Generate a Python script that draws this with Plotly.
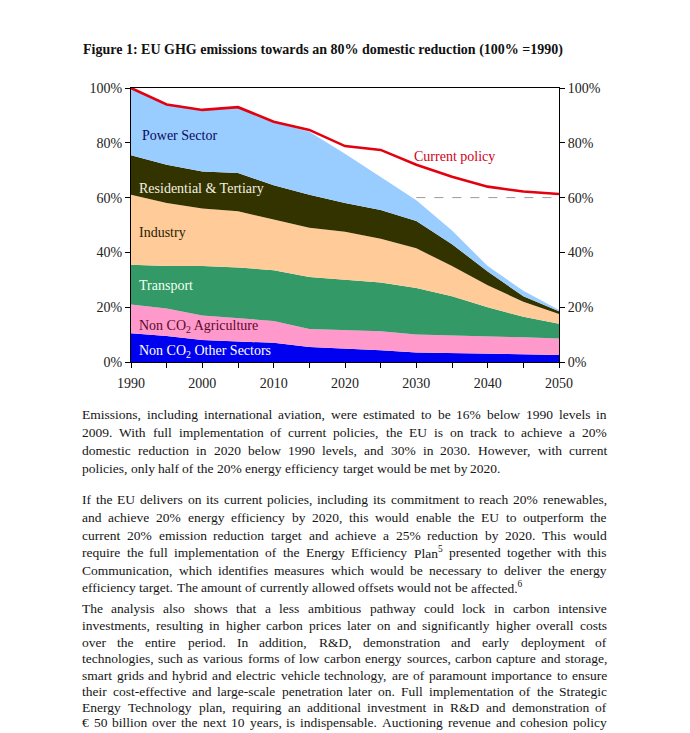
import re
import plotly.graph_objects as go

# ---------------- data (percent of 1990 emissions) ----------------
years = [1990, 1995, 2000, 2005, 2010, 2015, 2020, 2025, 2030, 2035, 2040, 2045, 2050]
other_sectors = [10.5, 9.5, 8.0, 7.5, 7.0, 5.5, 5.0, 4.3, 3.5, 3.3, 3.2, 3.0, 2.6]
agriculture = [10.5, 10.0, 9.0, 8.5, 8.0, 6.5, 6.7, 6.9, 6.5, 6.4, 6.3, 6.0, 6.0]
transport = [14.5, 15.5, 18.0, 18.5, 18.5, 19.0, 18.3, 17.8, 17.0, 14.3, 10.5, 7.5, 5.4]
industry = [25.5, 23.0, 21.0, 20.5, 18.5, 18.0, 17.5, 16.0, 14.5, 11.0, 8.0, 5.5, 3.5]
residential = [14.5, 14.0, 13.5, 14.0, 12.5, 12.0, 10.5, 10.5, 10.0, 8.0, 5.0, 2.0, 1.0]
power = [24.5, 22.0, 22.5, 24.0, 23.0, 23.0, 18.0, 12.0, 7.5, 5.0, 2.0, 2.0, 0.5]
current_policy = [100, 94, 92, 93, 87.7, 84.7, 78.8, 77.4, 72, 67.6, 64, 62.2, 61.3]
target_years = [2030, 2050]
target_level = [60, 60]

x_tickvals = [1990, 1995, 2000, 2005, 2010, 2015, 2020, 2025, 2030, 2035, 2040, 2045, 2050]
x_ticktext = ["1990", "", "2000", "", "2010", "", "2020", "", "2030", "", "2040", "", "2050"]
y_tickvals = [0, 20, 40, 60, 80, 100]
y_ticktext = ["0%", "20%", "40%", "60%", "80%", "100%"]

series = [
    ("Non CO<sub>2</sub> Other Sectors", other_sectors, "#0000F0", "#FFFFFF", 1990.9, 3.8),
    ("Non CO<sub>2</sub> Agriculture", agriculture, "#FF99CC", "#5A0A2A", 1990.9, 12.9),
    ("Transport", transport, "#339966", "#F2FFF2", 1990.8, 28.1),
    ("Industry", industry, "#FFCC99", "#2A2000", 1990.8, 47.2),
    ("Residential & Tertiary", residential, "#333300", "#F4F0E0", 1990.9, 63.4),
    ("Power Sector", power, "#99CCFF", "#0A0A60", 1991.2, 82.8),
]

title_text = "Figure 1: EU GHG emissions towards an 80% domestic reduction (100% =1990)"

paragraphs = [
    ([
        "Emissions, including international aviation, were estimated to be 16% below 1990 levels in",
        "2009. With full implementation of current policies, the EU is on track to achieve a 20%",
        "domestic reduction in 2020 below 1990 levels, and 30% in 2030. However, with current",
        "policies, only half of the 20% energy efficiency target would be met by 2020.",
    ], [414, 432, 450, 468]),
    ([
        "If the EU delivers on its current policies, including its commitment to reach 20% renewables,",
        "and achieve 20% energy efficiency by 2020, this would enable the EU to outperform the",
        "current 20% emission reduction target and achieve a 25% reduction by 2020. This would",
        "require the full implementation of the Energy Efficiency Plan<sup>5</sup> presented together with this",
        "Communication, which identifies measures which would be necessary to deliver the energy",
        "efficiency target. The amount of currently allowed offsets would not be affected.<sup>6</sup>",
    ], [499, 517, 535, 552, 570, 587]),
    ([
        "The analysis also shows that a less ambitious pathway could lock in carbon intensive",
        "investments, resulting in higher carbon prices later on and significantly higher overall costs",
        "over the entire period. In addition, R&D, demonstration and early deployment of",
        "technologies, such as various forms of low carbon energy sources, carbon capture and storage,",
        "smart grids and hybrid and electric vehicle technology, are of paramount importance to ensure",
        "their cost-effective and large-scale penetration later on. Full implementation of the Strategic",
        "Energy Technology plan, requiring an additional investment in R&D and demonstration of",
        "€ 50 billion over the next 10 years, is indispensable. Auctioning revenue and cohesion policy",
        "co-financing options exist. Member States should exploit these. In addition, innovative",
    ], [608, 625, 642, 658, 675, 691, 707, 722, 738]),
]

# ---------------- page geometry (page pixels; page body has an 8px margin) ----------------
W, H = 690, 733
OFF = 8
PX_L, PX_R, PY_T, PY_B = 131, 559, 88, 362
TEXT_L, TEXT_R = 82, 607
SERIF = "Liberation Serif, Times New Roman, serif"
BODY_SIZE = 13.5


def fx(px):
    return (px - OFF) / W


def fy(py):
    return 1 - (py - OFF) / H


# Times / Liberation Serif advance widths (per 1000 em)
_w = {' ': 250, ',': 250, '.': 250, ':': 278, ';': 278, '%': 833, '&': 778, '-': 333,
      '(': 333, ')': 333, '=': 564, '€': 500, "'": 180}
for c, v in zip("abcdefghijklmnopqrstuvwxyz",
                [444, 500, 444, 500, 444, 333, 500, 500, 278, 278, 500, 278, 778, 500, 500,
                 500, 500, 333, 389, 278, 500, 500, 722, 500, 500, 444]):
    _w[c] = v
for c, v in zip("ABCDEFGHIJKLMNOPQRSTUVWXYZ",
                [722, 667, 667, 722, 611, 556, 722, 722, 333, 389, 722, 611, 889, 722, 722,
                 556, 722, 667, 556, 611, 722, 722, 944, 722, 722, 611]):
    _w[c] = v
for c in "0123456789":
    _w[c] = 500


def word_width(word, size):
    total = 0.0
    for part in re.split(r"(<sup>.*?</sup>)", word):
        if part.startswith("<sup>"):
            inner = part[5:-6]
            total += sum(_w.get(ch, 500) for ch in inner) * 0.7
        else:
            total += sum(_w.get(ch, 500) for ch in part)
    return total * size / 1000.0


fig = go.Figure()

for name, vals, fill, _, _, _ in series:
    fig.add_trace(go.Scatter(
        x=years, y=vals, name=re.sub("<.*?>", "", name), stackgroup="ghg",
        mode="lines", line=dict(width=0, color=fill), fillcolor=fill,
        hoverinfo="skip"))

fig.add_trace(go.Scatter(
    x=target_years, y=target_level, mode="lines", yaxis="y2",
    line=dict(color="#9A9A9A", width=1, dash="dash"), hoverinfo="skip"))

fig.add_trace(go.Scatter(
    x=years, y=current_policy, mode="lines", name="Current policy",
    line=dict(color="#E3000F", width=2.6), hoverinfo="skip"))

annotations = []
for name, vals, fill, tcol, lx, ly in series:
    annotations.append(dict(x=lx, y=ly, xref="x", yref="y", text=name, showarrow=False,
                            xanchor="left", yanchor="middle",
                            font=dict(family=SERIF, size=14, color=tcol)))
annotations.append(dict(x=2035.4, y=74.9, xref="x", yref="y", text="Current policy",
                        showarrow=False, xanchor="center", yanchor="middle",
                        font=dict(family=SERIF, size=14, color="#D0001A")))

# title
annotations.append(dict(x=fx(83), y=fy(50), xref="paper", yref="paper",
                        text="<b>" + title_text + "</b>", showarrow=False,
                        xanchor="left", yanchor="middle", borderpad=0, borderwidth=0,
                        font=dict(family=SERIF, size=14, color="#111111")))

# body text, justified word by word
for lines, ys in paragraphs:
    for i, (line, yc) in enumerate(zip(lines, ys)):
        words = line.split(" ")
        widths = [word_width(w_, BODY_SIZE) for w_ in words]
        last_line = (i == len(lines) - 1) and (len(lines) != 9)
        if last_line or len(words) == 1:
            gap = 250 * BODY_SIZE / 1000.0
        else:
            gap = (TEXT_R - TEXT_L - sum(widths)) / (len(words) - 1)
        xpos = TEXT_L
        for j, (wd, ww) in enumerate(zip(words, widths)):
            if (not last_line) and j == len(words) - 1 and len(words) > 1:
                ax, anc = TEXT_R, "right"
            else:
                ax, anc = xpos, "left"
            annotations.append(dict(x=fx(ax), y=fy(yc), xref="paper", yref="paper",
                                    text=wd, showarrow=False, xanchor=anc, yanchor="middle",
                                    borderpad=0, borderwidth=0,
                                    font=dict(family=SERIF, size=BODY_SIZE, color="#151515")))
            xpos += ww + gap

axis_font = dict(family=SERIF, size=14, color="#222222")
fig.update_layout(
    width=W, height=H, autosize=False, margin=dict(l=0, r=0, t=0, b=0, pad=0, autoexpand=False),
    paper_bgcolor="white", plot_bgcolor="white", showlegend=False,
    xaxis=dict(domain=[fx(PX_L), fx(PX_R)], range=[1990, 2050], tickmode="array",
               tickvals=x_tickvals, ticktext=x_ticktext, ticks="outside", ticklen=5,
               tickcolor="black", showline=True, linecolor="black", linewidth=1,
               mirror=True, showgrid=False, zeroline=False, tickfont=axis_font,
               ticklabelstandoff=3, automargin=False),
    yaxis=dict(domain=[fy(PY_B), fy(PY_T)], range=[0, 100], tickmode="array",
               tickvals=y_tickvals, ticktext=y_ticktext, ticks="outside", ticklen=5,
               tickcolor="black", showline=True, linecolor="black", linewidth=1,
               showgrid=False, zeroline=False, tickfont=axis_font, automargin=False),
    yaxis2=dict(overlaying="y", side="right", range=[0, 100], tickmode="array",
                tickvals=y_tickvals, ticktext=y_ticktext, ticks="outside", ticklen=5,
                tickcolor="black", showline=True, linecolor="black", linewidth=1,
                showgrid=False, zeroline=False, tickfont=axis_font, automargin=False),
    annotations=annotations,
)

fig.write_html("out.html")
